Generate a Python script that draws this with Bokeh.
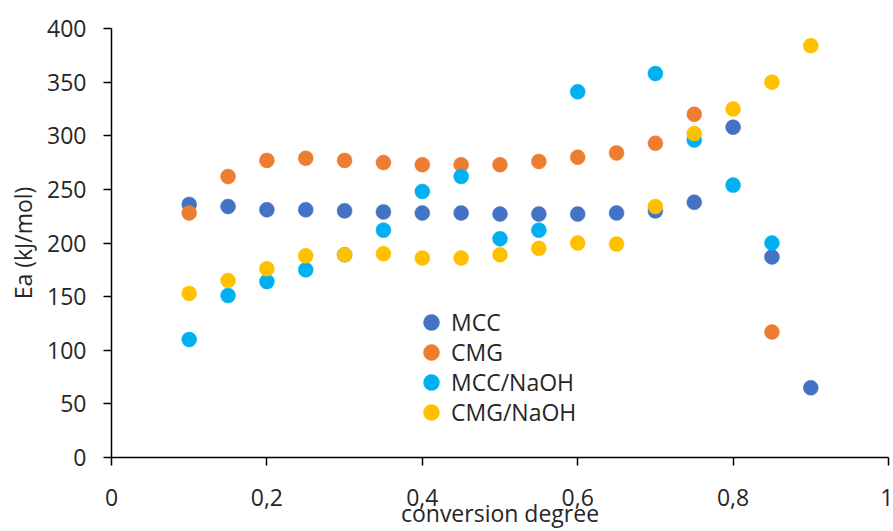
from bokeh.plotting import figure
from bokeh.models import FixedTicker, Legend, LegendItem
from bokeh.embed import file_html
from bokeh.resources import INLINE

x = [0.1, 0.15, 0.2, 0.25, 0.3, 0.35, 0.4, 0.45, 0.5, 0.55, 0.6, 0.65, 0.7, 0.75, 0.8, 0.85, 0.9]

mcc_x = x
mcc_y = [236, 234, 231, 231, 230, 229, 228, 228, 227, 227, 227, 228, 230, 238, 308, 187, 65]

cmg_x = [0.1, 0.15, 0.2, 0.25, 0.3, 0.35, 0.4, 0.45, 0.5, 0.55, 0.6, 0.65, 0.7, 0.75, 0.85]
cmg_y = [228, 262, 277, 279, 277, 275, 273, 273, 273, 276, 280, 284, 293, 320, 117]

mccn_x = [0.1, 0.15, 0.2, 0.25, 0.3, 0.35, 0.4, 0.45, 0.5, 0.55, 0.6, 0.7, 0.75, 0.8, 0.85]
mccn_y = [110, 151, 164, 175, 189, 212, 248, 262, 204, 212, 341, 358, 296, 254, 200]

cmgn_x = x
cmgn_y = [153, 165, 176, 188, 189, 190, 186, 186, 189, 195, 200, 199, 234, 302, 325, 350, 384]

series_names = ["MCC", "CMG", "MCC/NaOH", "CMG/NaOH"]
colors = ["#4472C4", "#ED7D31", "#00B0F0", "#FFC000"]

x_ticks = [0, 0.2, 0.4, 0.6, 0.8, 1]
x_tick_labels = ["0", "0,2", "0,4", "0,6", "0,8", "1"]
y_ticks = [0, 50, 100, 150, 200, 250, 300, 350, 400]
x_title = "conversion degree"
y_title = "Ea (kJ/mol)"

FONT = "Open Sans"
TXT = "#262626"

p = figure(width=893, height=531, x_range=(0, 1), y_range=(0, 400),
           output_backend="svg", toolbar_location=None,
           min_border_left=111, min_border_right=5, min_border_top=28, min_border_bottom=74)
p.outline_line_color = None
p.xgrid.visible = False
p.ygrid.visible = False
p.background_fill_color = "white"
p.border_fill_color = "white"

renderers = []
for xs, ys, c in [(mcc_x, mcc_y, colors[0]), (cmg_x, cmg_y, colors[1]),
                  (mccn_x, mccn_y, colors[2]), (cmgn_x, cmgn_y, colors[3])]:
    r = p.scatter(xs, ys, size=15, fill_color=c, line_color=c, line_width=0.5)
    renderers.append(r)

for ax in (p.xaxis[0], p.yaxis[0]):
    ax.axis_line_color = "#000000"
    ax.axis_line_width = 1.5
    ax.major_tick_line_color = "#000000"
    ax.major_tick_line_width = 1.5
    ax.major_tick_out = 8
    ax.major_tick_in = 0
    ax.minor_tick_line_color = None
    ax.major_label_text_font = FONT
    ax.major_label_text_font_size = "23px"
    ax.major_label_text_color = TXT
    ax.axis_label_text_font = FONT
    ax.axis_label_text_font_size = "23px"
    ax.axis_label_text_font_style = "normal"
    ax.axis_label_text_color = TXT

p.xaxis[0].ticker = FixedTicker(ticks=x_ticks)
p.xaxis[0].major_label_overrides = {t: l for t, l in zip(x_ticks, x_tick_labels)}
p.xaxis[0].major_label_standoff = 23
p.xaxis[0].axis_label = x_title
p.xaxis[0].axis_label_standoff = -12

p.yaxis[0].ticker = FixedTicker(ticks=y_ticks)
p.yaxis[0].major_label_standoff = 17
p.yaxis[0].axis_label = y_title
p.yaxis[0].axis_label_standoff = 5

# one legend box per entry so that rows can sit 30px apart with 16px markers
row_offsets = [115, 85, 55, 25]
for name, r, off in zip(series_names, renderers, row_offsets):
    lg = Legend(items=[LegendItem(label=name, renderers=[r])], location=(300, off),
                padding=0, margin=0, border_line_color=None, background_fill_alpha=0,
                glyph_width=40, glyph_height=40, label_standoff=0,
                label_text_font=FONT, label_text_font_size="23px", label_text_color=TXT)
    p.add_layout(lg, "center")

open("out.html", "w").write(file_html(p, INLINE))
